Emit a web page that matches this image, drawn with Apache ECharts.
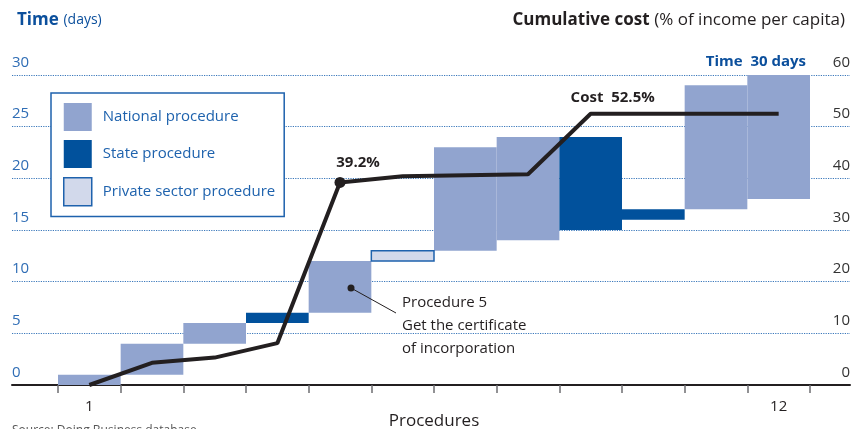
<!DOCTYPE html>
<html>
<head>
<meta charset="utf-8">
<script src="https://cdn.jsdelivr.net/npm/echarts@6/dist/echarts.min.js"></script>
<style>
  html, body { margin: 0; padding: 0; background: #fff; }
  #chart { width: 857px; height: 429px; }
</style>
</head>
<body>
<div id="chart"></div>
<script>
// procedures and their time windows (days)
const procedures = ["1", "2", "3", "4", "5", "6", "7", "8", "9", "10", "11", "12"];
const timeStart = [0, 1, 4, 6, 7, 12, 13, 14, 15, 16, 17, 18];
const timeEnd = [1, 4, 6, 7, 12, 13, 23, 24, 24, 17, 29, 30];
const procType = ["national", "national", "national", "state", "national", "private",
  "national", "national", "state", "state", "national", "national"];
// cumulative cost, % of income per capita
const costCum = [0, 4.3, 5.3, 8.1, 39.2, 40.4, 40.6, 40.8, 52.5, 52.5, 52.5, 52.5];
const timeTicks = [0, 30, 5];
const costTicks = [0, 60, 10];

const fontFamily = "'Open Sans', 'Noto Sans', sans-serif";
const colorList = {
  national: "#91a4cf",
  state: "#01519c",
  private: "#d2d9eb",
  blue: "#1e62ad",
  dark: "#231f20",
};

function rowsFor(type) {
  let rows = [];
  procType.map((t, i) => {
    if (t === type) rows.push([i, timeStart[i], timeEnd[i]]);
  });
  return rows;
}

function renderSpan(params, api) {
  let s = api.coord([api.value(0), api.value(1)]);
  let e = api.coord([api.value(0), api.value(2)]);
  let w = api.size([1, 0])[0];
  return {
    type: "rect",
    shape: { x: s[0] - w / 2, y: e[1], width: w, height: s[1] - e[1] },
    style: api.style(),
  };
}

let costData = costCum.map((v, i) => {
  if (i === 4) {
    return {
      value: v,
      symbolSize: 11,
      label: { show: true, formatter: "39.2%", position: "top", offset: [18, -2] },
    };
  }
  if (i === 8) {
    return {
      value: v,
      label: { show: true, formatter: "Cost  52.5%", position: "top", offset: [22, -4] },
    };
  }
  return v;
});

const chart = echarts.init(document.getElementById("chart"));
chart.setOption({
  animation: false,
  textStyle: { fontFamily: fontFamily },
  title: [
    {
      left: 12,
      top: 6,
      text: "{b|Time} {n|(days)}",
      textStyle: {
        rich: {
          b: { fontSize: 17, fontWeight: "bold", color: "#0b4f9c", fontFamily: fontFamily },
          n: { fontSize: 14, fontWeight: "normal", color: "#0b4f9c", fontFamily: fontFamily },
        },
      },
    },
    {
      right: 7,
      top: 6,
      text: "{b|Cumulative cost} {n|(% of income per capita)}",
      textStyle: {
        rich: {
          b: { fontSize: 17, fontWeight: "bold", color: colorList.dark, fontFamily: fontFamily },
          n: { fontSize: 17, fontWeight: "normal", color: colorList.dark, fontFamily: fontFamily },
        },
      },
    },
    {
      right: 46,
      top: 49,
      text: "Time  30 days",
      textStyle: { fontSize: 15, fontWeight: "bold", color: "#0b4f9c", fontFamily: fontFamily },
    },
  ],
  legend: {
    left: 51,
    top: 93,
    orient: "vertical",
    icon: "rect",
    itemWidth: 28,
    itemHeight: 28,
    itemGap: 9,
    padding: [10, 9, 10, 12],
    backgroundColor: "#fff",
    borderColor: colorList.blue,
    borderWidth: 1.5,
    selectedMode: false,
    z: 5,
    textStyle: { fontSize: 15, color: colorList.blue, padding: [0, 0, 0, 6] },
    data: [
      { name: "National procedure" },
      { name: "State procedure" },
      { name: "Private sector procedure", itemStyle: { borderColor: colorList.blue, borderWidth: 1.5 } },
    ],
  },
  grid: [
    { left: 58, right: 47, top: 75, bottom: 44, outerBoundsMode: "none" },
    { left: 12, right: 7, top: 75, bottom: 44, outerBoundsMode: "none" },
  ],
  xAxis: [
    {
      type: "category",
      gridIndex: 0,
      data: procedures,
      boundaryGap: true,
      axisLine: { show: false },
      axisTick: { show: true, interval: 0, length: 8, lineStyle: { color: "#6d6e71", width: 1.5 } },
      axisLabel: {
        margin: 14,
        fontSize: 15,
        color: colorList.dark,
        interval: (idx) => idx === 0 || idx === 11,
      },
      name: "Procedures",
      nameLocation: "middle",
      nameGap: 28,
      nameMoveOverlap: false,
      nameTextStyle: { fontSize: 17, color: colorList.dark },
    },
    {
      type: "value",
      gridIndex: 1,
      min: 0,
      max: 1,
      axisLine: { show: true, lineStyle: { color: colorList.dark, width: 2 } },
      axisTick: { show: false },
      axisLabel: { show: false },
      splitLine: { show: false },
    },
  ],
  yAxis: [
    { type: "value", gridIndex: 0, min: timeTicks[0], max: timeTicks[1], interval: timeTicks[2], show: false },
    { type: "value", gridIndex: 0, min: costTicks[0], max: costTicks[1], interval: costTicks[2], show: false },
    {
      type: "value",
      gridIndex: 1,
      position: "left",
      min: timeTicks[0],
      max: timeTicks[1],
      interval: timeTicks[2],
      axisLine: { show: false },
      axisTick: { show: false },
      axisLabel: {
        inside: true,
        margin: 0,
        verticalAlign: "bottom",
        padding: [0, 0, 5, 0],
        fontSize: 15,
        color: "#2f6db5",
      },
      splitLine: { show: true, lineStyle: { type: "dotted", color: "#3b78bb", width: 1.2 } },
    },
    {
      type: "value",
      gridIndex: 1,
      position: "right",
      min: costTicks[0],
      max: costTicks[1],
      interval: costTicks[2],
      axisLine: { show: false },
      axisTick: { show: false },
      axisLabel: {
        inside: true,
        margin: 0,
        verticalAlign: "bottom",
        padding: [0, 0, 5, 0],
        fontSize: 15,
        color: "#333",
      },
      splitLine: { show: false },
    },
  ],
  series: [
    {
      name: "National procedure",
      type: "custom",
      xAxisIndex: 0,
      yAxisIndex: 0,
      renderItem: renderSpan,
      encode: { x: 0, y: [1, 2] },
      itemStyle: { color: colorList.national },
      data: rowsFor("national"),
    },
    {
      name: "State procedure",
      type: "custom",
      xAxisIndex: 0,
      yAxisIndex: 0,
      renderItem: renderSpan,
      encode: { x: 0, y: [1, 2] },
      itemStyle: { color: colorList.state },
      data: rowsFor("state"),
    },
    {
      name: "Private sector procedure",
      type: "custom",
      xAxisIndex: 0,
      yAxisIndex: 0,
      renderItem: renderSpan,
      encode: { x: 0, y: [1, 2] },
      itemStyle: { color: colorList.private, borderColor: colorList.blue, borderWidth: 1.5 },
      data: rowsFor("private"),
    },
    {
      name: "Cost",
      type: "line",
      xAxisIndex: 0,
      yAxisIndex: 1,
      symbol: "circle",
      symbolSize: 0,
      showSymbol: true,
      z: 4,
      lineStyle: { width: 4, color: colorList.dark },
      itemStyle: { color: colorList.dark },
      label: { fontSize: 15, fontWeight: "bold", color: colorList.dark },
      data: costData,
    },
  ],
  graphic: [
    // note for procedure 5
    { type: "circle", shape: { cx: 351, cy: 288, r: 3.5 }, style: { fill: colorList.dark }, z: 10 },
    { type: "line", shape: { x1: 351, y1: 288, x2: 396, y2: 313 }, style: { stroke: colorList.dark, lineWidth: 1 }, z: 10 },
    {
      type: "text",
      left: 402,
      top: 291,
      style: {
        text: "Procedure 5\nGet the certificate\nof incorporation",
        font: "15px " + fontFamily,
        lineHeight: 23,
        fill: colorList.dark,
      },
      z: 10,
    },
    {
      type: "text",
      left: 12,
      top: 425,
      style: { text: "Source: Doing Business database.", font: "12px " + fontFamily, fill: "#555" },
    },
  ],
});
</script>
</body>
</html>
